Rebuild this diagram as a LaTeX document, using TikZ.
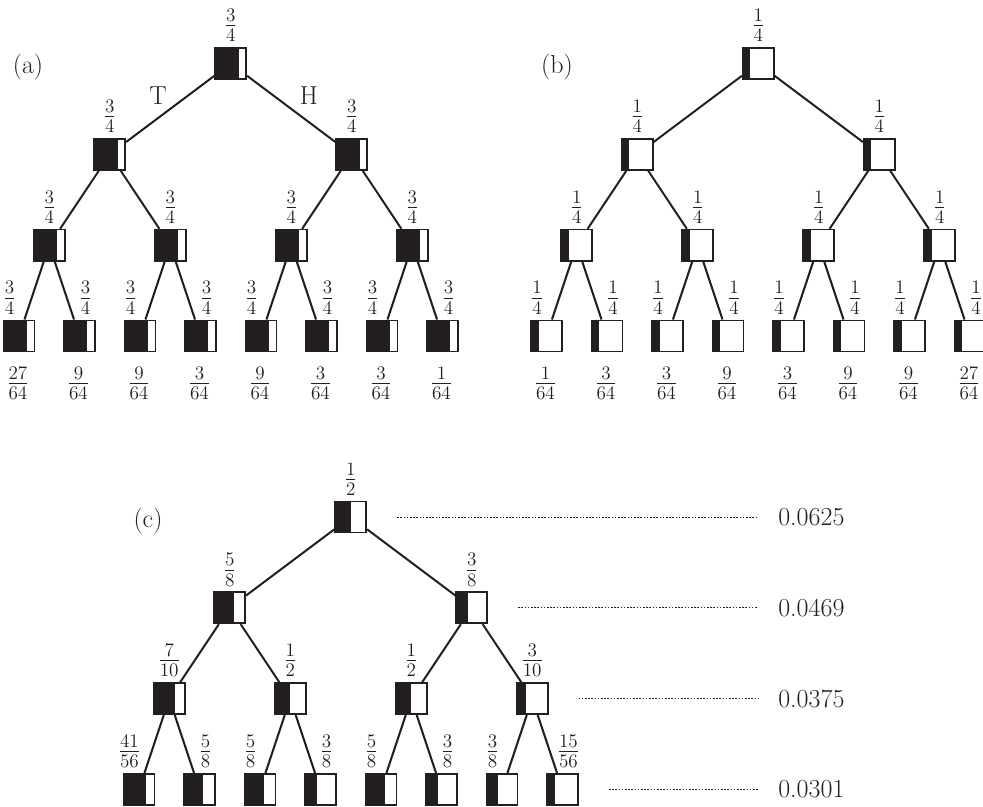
\documentclass[tikz,border=0pt]{standalone}
\usepackage{fix-cm}
\usetikzlibrary{calc}
\definecolor{ink}{RGB}{35,31,32}
\tikzset{
  cell/.style={draw=ink, line width=1.3pt, minimum width=23.3pt, minimum height=23.3pt,
    inner sep=0pt, fill=white,
    path picture={\fill[ink] (path picture bounding box.south west) rectangle
      ([xshift={23.3pt*(#1)}]path picture bounding box.north west);}},
  branch/.style={draw=ink, line width=1.5pt},
  frac/.style={text=ink, inner sep=0pt, font=\fontsize{20.5}{24}\selectfont},
  paneltag/.style={text=ink, inner sep=0pt, font=\fontsize{19.5}{23}\selectfont},
  guide/.style={draw=ink, line width=0.7pt, dash pattern=on 1.2pt off 1.2pt},
}
% #1 prefix of node names, #2/#3 offset, #4 the fifteen numerator/denominator pairs in heap order
\newcommand\growtree[4]{%
  \foreach \va/\vb [count=\kk from 0] in {#4} {
    \pgfmathtruncatemacro\lev{(\kk>=1)+(\kk>=3)+(\kk>=7)}
    \pgfmathtruncatemacro\idx{\kk+1-2^\lev}
    \pgfmathtruncatemacro\spn{2^(3-\lev)}
    \pgfmathsetmacro\xc{#2+19+60.5*(\spn*\idx+(\spn-1)/2)}
    \pgfmathsetmacro\yc{#3+63.5+90.8*\lev}
    \pgfmathsetmacro\ox{\lev==3 ? (mod(\idx,2)==0 ? -9.5 : 6) : 0}
    \node[cell={\va/\vb}] (#1\kk) at (\xc,\yc) {};
    \node[frac] (#1f\kk) at ([shift={(\ox,-38)}]#1\kk) {$\frac{\va}{\vb}$};
    \ifnum\kk>0
      \pgfmathtruncatemacro\pp{(\kk-1)/2}
      \draw[branch] (#1\pp) -- (#1\kk);
    \fi
  }%
}
\begin{document}
\begin{tikzpicture}[x=0.75pt, y=-0.75pt]
\useasboundingbox (0,0) rectangle (983,807);
\clip (0,0) rectangle (983,807);

% (a): every step 3/4
\growtree{a}{0}{0}{3/4,3/4,3/4,3/4,3/4,3/4,3/4,3/4,3/4,3/4,3/4,3/4,3/4,3/4,3/4}
\foreach \va/\vb [count=\ii from 7] in {27/64,9/64,9/64,3/64,9/64,3/64,3/64,1/64}
  \node[frac] (ap\ii) at ([shift={(-1,47.5)}]a\ii) {$\frac{\va}{\vb}$};
\node[paneltag] (atag) at (28,67) {(a)};
\node[paneltag] (tT) at (158,96) {T};
\node[paneltag] (tH) at (309,96) {H};

% (b): every step 1/4
\growtree{b}{527.5}{0}{1/4,1/4,1/4,1/4,1/4,1/4,1/4,1/4,1/4,1/4,1/4,1/4,1/4,1/4,1/4}
\foreach \va/\vb [count=\ii from 7] in {1/64,3/64,3/64,9/64,3/64,9/64,9/64,27/64}
  \node[frac] (bp\ii) at ([shift={(-1,47.5)}]b\ii) {$\frac{\va}{\vb}$};
\node[paneltag] (btag) at (557,67) {(b)};

% (c): adaptive estimates
\growtree{c}{120}{453.5}{1/2,5/8,3/8,7/10,1/2,1/2,3/10,41/56,5/8,5/8,3/8,5/8,3/8,3/8,15/56}
\node[paneltag] (ctag) at (148,521) {(c)};

% per-level values on the right
\coordinate (gend) at (758,0);
\foreach \nd/\val [count=\ii from 0] in {c0/0.0625, c2/0.0469, c6/0.0375, c14/0.0301} {
  \node[paneltag, anchor=west, inner xsep=15pt] (v\ii) at (\nd -| gend) {\val};
  \draw[guide] ([xshift=22.5pt]\nd.east) -- (v\ii);
}
\end{tikzpicture}
\end{document}
